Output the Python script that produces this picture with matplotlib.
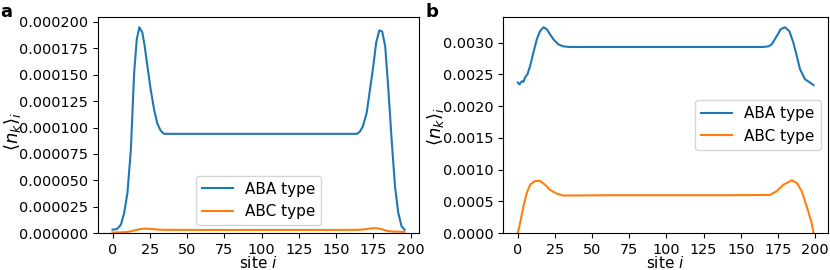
import matplotlib
matplotlib.use("Agg")
import numpy as np
from matplotlib import pyplot as plt

sites_a_aba = [0, 3, 5.6, 7.8, 10, 12.3, 14.5, 16.3, 18, 20, 21.6, 23.4, 25.6, 27.9, 30,
               32.3, 34.6, 40, 60, 80, 100, 120, 140, 160, 164, 166, 168, 170.6, 172.8,
               175, 176.9, 179, 181, 183, 185, 187.3, 189.6, 191.8, 194, 196]
aba_a = [3.2e-6, 3.8e-6, 7.9e-6, 1.9e-5, 3.8e-5, 7.9e-5, 1.52e-4, 1.84e-4, 1.95e-4, 1.9e-4,
         1.77e-4, 1.58e-4, 1.36e-4, 1.17e-4, 1.04e-4, 9.7e-5, 9.4e-5, 9.4e-5, 9.4e-5, 9.4e-5,
         9.4e-5, 9.4e-5, 9.4e-5, 9.4e-5, 9.4e-5, 9.6e-5, 1.01e-4, 1.14e-4, 1.36e-4, 1.58e-4,
         1.8e-4, 1.92e-4, 1.91e-4, 1.77e-4, 1.39e-4, 8.9e-5, 4.4e-5, 1.9e-5, 6.3e-6, 3.2e-6]

sites_a_abc = [0, 5, 10, 14, 18, 22, 26, 30, 35, 60, 100, 140, 165, 170, 173, 176, 179,
               182, 185, 188, 193, 196]
abc_a = [0.5e-6, 0.6e-6, 1.0e-6, 2.2e-6, 3.6e-6, 4.2e-6, 3.9e-6, 3.3e-6, 3.0e-6, 2.9e-6,
         2.9e-6, 2.9e-6, 3.0e-6, 3.6e-6, 4.3e-6, 4.6e-6, 4.2e-6, 3.0e-6, 1.8e-6, 1.4e-6,
         1.2e-6, 1.1e-6]

# panel b
sites_b_aba = [0, 1.1, 2.7, 3.8, 4.9, 6.5, 8.3, 10.5, 12.8, 15, 17.3, 19.5, 21.7, 24,
               27.4, 30.7, 35, 60, 100, 140, 165, 168.6, 170.8, 174.2, 176.9, 179.8, 182.7,
               185.4, 187.7, 189.9, 193.3, 196.6, 199]
aba_b = [0.00237, 0.00234, 0.00239, 0.00238, 0.00245, 0.0025, 0.00263, 0.00284, 0.00305,
         0.00318, 0.00324, 0.00321, 0.00313, 0.00305, 0.00297, 0.00294, 0.00293, 0.00293,
         0.00293, 0.00293, 0.00293, 0.00294, 0.00297, 0.0031, 0.00321, 0.00324, 0.00318,
         0.003, 0.00279, 0.00258, 0.00242, 0.00237, 0.00233]

sites_b_abc = [0, 1.6, 3.8, 6, 8.3, 11.7, 15, 18.4, 21.7, 26.2, 30.7, 60, 100, 140, 169.7,
               174.2, 178.7, 184.3, 187.7, 191, 194.4, 197.7, 199]
abc_b = [0.0, 0.00016, 0.00042, 0.00063, 0.00076, 0.00082, 0.00082, 0.00076, 0.00068,
         0.00062, 0.00059, 0.000595, 0.000595, 0.000595, 0.0006, 0.00066, 0.00076, 0.00083,
         0.00079, 0.00066, 0.00042, 0.00016, 0.0]

plt.rcParams['font.size'] = 10.4

fig = plt.figure(figsize=(8.3, 2.7), dpi=100)
ax1 = fig.add_axes([0.118, 0.137, 0.387, 0.8])
ax2 = fig.add_axes([0.606, 0.137, 0.392, 0.8])

ax1.plot(sites_a_aba, aba_a, label='ABA type')
ax1.plot(sites_a_abc, abc_a, label='ABC type')
ax1.set_ylim(bottom=0)
ax1.set_yticks(np.arange(0, 0.000201, 0.000025))
ax1.yaxis.set_major_formatter(matplotlib.ticker.FormatStrFormatter('%.6f'))
ax1.set_xticks(np.arange(0, 201, 25))
ax1.set_xlabel('site $i$', fontsize=11, labelpad=-1)
ax1.set_ylabel(r'$\langle n_k \rangle_i$', fontsize=13)
ax1.yaxis.set_label_coords(-0.232, 0.47)
ax1.legend(loc='lower center', fontsize=11)

ax2.plot(sites_b_aba, aba_b, label='ABA type')
ax2.plot(sites_b_abc, abc_b, label='ABC type')
ax2.set_ylim(bottom=0)
ax2.set_yticks(np.arange(0, 0.00301, 0.0005))
ax2.yaxis.set_major_formatter(matplotlib.ticker.FormatStrFormatter('%.4f'))
ax2.set_xticks(np.arange(0, 201, 25))
ax2.set_xlabel('site $i$', fontsize=11, labelpad=-1)
ax2.set_ylabel(r'$\langle n_k \rangle_i$', fontsize=13)
ax2.yaxis.set_label_coords(-0.176, 0.495)
ax2.legend(loc='center right', fontsize=11)

fig.text(0.0, 0.99, 'a', fontsize=13, fontweight='bold', va='top')
fig.text(0.513, 0.99, 'b', fontsize=13, fontweight='bold', va='top')

fig.savefig('out.png', dpi=100)
